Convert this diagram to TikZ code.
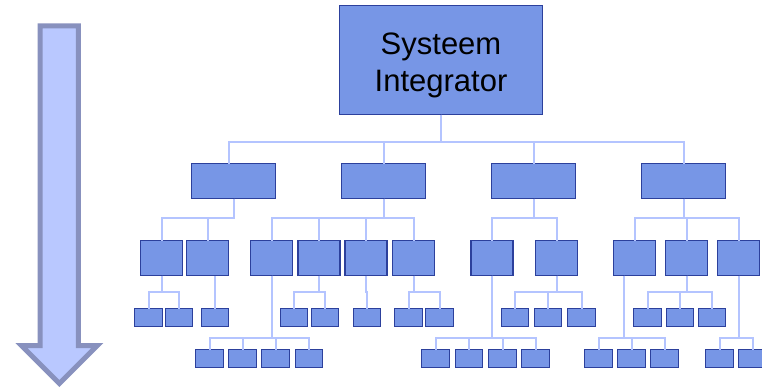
\documentclass[tikz,border=0pt]{standalone}
\usepackage{fontspec}
\setmainfont{Liberation Sans}
\usetikzlibrary{positioning}
\definecolor{boxfillcolor}{HTML}{7796E6}
\definecolor{boxdrawcolor}{HTML}{2C409C}
\definecolor{linkcolor}{HTML}{B4C4FF}
\definecolor{arrowfillcolor}{HTML}{B9C8FF}
\definecolor{arrowdrawcolor}{HTML}{8891BE}
\def\boxlinewidth{1.2pt}
\def\linkwidth{2pt}
\def\arrowlinewidth{5pt}
\tikzset{
	% general
	block/.style={
		draw=boxdrawcolor,
		fill=boxfillcolor,
		line width=\boxlinewidth,
		shape=rectangle,
		inner sep=0pt,
		outer sep=0pt,
	},
	% systeem integrator
	top_block/.style={
		block,
		minimum width=203pt,
		minimum height=109pt,
		align=center,
		font=\fontsize{31}{37}\selectfont,
	},
	% subsystems
	sub_block/.style={
		block,
		minimum width=84pt,
		minimum height=35pt,
	},
	% components
	comp_block/.style={
		block,
		minimum width=42pt,
		minimum height=35pt,
	},
	% parts
	part_block/.style={
		block,
		minimum width=27.5pt,
		minimum height=17.5pt,
	},
	% connections
	link/.style={
		draw=linkcolor,
		line width=\linkwidth,
	},
	% big arrow
	big_arrow/.style={
		draw=arrowdrawcolor,
		fill=arrowfillcolor,
		line width=\arrowlinewidth,
		line join=miter,
	}
}

\begin{document}
\begin{tikzpicture}[x=1pt, y=-1pt]
	\useasboundingbox (0,0) rectangle (762,388);
	%
	\draw[big_arrow] (40.2,25.8) -- (78.4,25.8) -- (78.4,345.5) -- (97.3,345.5)
		-- (59.3,383.5) -- (21.3,345.5) -- (40.2,345.5) -- cycle;
	%
	\node[top_block] (si) at (441,60) {\rule{0pt}{31.5pt}Systeem\\Integrator};
	%
	\foreach \x [count=\i] in {233.5,383.5,533.5,683.5}
		\node[sub_block] (sub\i) at (\x,181) {};
	%
	\foreach \x [count=\i] in {161.5,207.5,271.5,319,366,413.5,492,556.5,634.5,686.5,738.5}
		\node[comp_block] (comp\i) at (\x,258) {};
	%
	\foreach \x [count=\i] in {148.5,179,215,294,325,367,408.5,439.5,515,548,581.5,647.5,680,712}
		\node[part_block] (part\i) at (\x,317.5) {};
	%
	\foreach \x [count=\i] in {209.5,242.5,275.5,309,435.5,469,502.5,535.5,598.5,631.5,664.5,719.5,752.5}
		\node[part_block] (unit\i) at (\x,358.5) {};
	%
	% systeem integrator to subsystems
	\draw[link] (si.south) -- ++(0,27) -| ([xshift=-5pt]sub1.north);
	\foreach \i in {2,3,4}
		\draw[link] (si.south) -- ++(0,27) -| (sub\i.north);
	%
	% subsystems to components
	\foreach \p/\c in {1/1,1/2,2/3,2/4,2/5,2/6,3/7,3/8,4/9,4/10,4/11}
		\draw[link] (sub\p.south) -- ++(0,19) -| (comp\c.north);
	%
	% components to parts
	\foreach \p/\c in {1/1,1/2,4/4,4/5,5/6,6/7,6/8,8/9,8/10,8/11,10/12,10/13,10/14}
		\draw[link] (comp\p.south) -- ++(0,16.5) -| (part\c.north);
	\draw[link] (part3.north) -- (part3.north |- comp2.south);
	%
	% components to units
	\foreach \p/\c in {3/1,3/2,3/3,3/4,7/5,7/6,7/7,7/8,11/12,11/13}
		\draw[link] (comp\p.south) -- ++(0,62.5) -| (unit\c.north);
	\foreach \c in {9,10,11}
		\draw[link] ([xshift=-10.5pt]comp9.south) -- ++(0,62.5) -| (unit\c.north);
	%
\end{tikzpicture}
\end{document}
